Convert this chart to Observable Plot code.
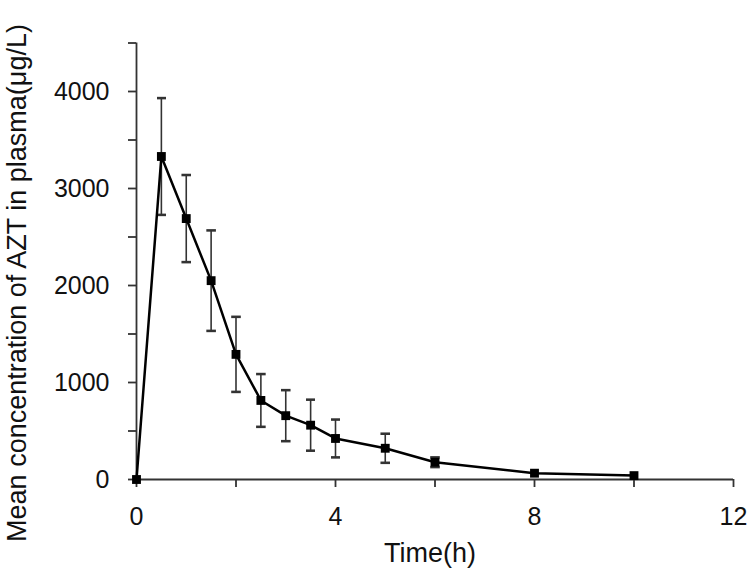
<!DOCTYPE html>
<html><head><meta charset="utf-8">
<script src="https://cdn.jsdelivr.net/npm/d3@7"></script>
<script src="https://cdn.jsdelivr.net/npm/@observablehq/plot@0.6"></script>
<style>html,body{margin:0;padding:0;background:#fff}</style>
</head><body><div id="chart"></div>
<script>
const times = [0, 0.5, 1, 1.5, 2, 2.5, 3, 3.5, 4, 5, 6, 8, 10];
const meanConc = [0, 3330, 2690, 2050, 1290, 815, 658, 560, 423, 322, 178, 65, 40];
const sdConc = [0, 602, 449, 518, 387, 272, 263, 263, 195, 150, 50, 0, 0];
const xTicks = [0, 2, 4, 6, 8, 10, 12];
const xTickLabels = [0, 4, 8, 12];
const yTicks = [0, 500, 1000, 1500, 2000, 2500, 3000, 3500, 4000, 4500];
const yTickLabels = [0, 1000, 2000, 3000, 4000];
const xTitle = "Time(h)";
const yTitle = "Mean concentration of AZT in plasma(\u03bcg/L)";

const data = times.map((t, i) => ({t, mean: meanConc[i], sd: sdConc[i]}));

const axisColor = "#333";
const chart = Plot.plot({
  width: 750, height: 575,
  marginLeft: 136, marginRight: 17, marginTop: 42.5, marginBottom: 96,
  style: {fontFamily: "'Liberation Sans', Arial, sans-serif", background: "#fff", color: "#111"},
  x: {domain: [0, 12]},
  y: {domain: [0, 4500]},
  marks: [
    Plot.ruleX([0], {stroke: axisColor, strokeWidth: 1.8}),
    Plot.ruleY([0], {stroke: axisColor, strokeWidth: 1.8}),
    Plot.axisX({ticks: xTicks, tickSize: 8, tickPadding: 20, label: null,
      tickFormat: d => xTickLabels.includes(d) ? String(d) : "",
      stroke: axisColor, strokeWidth: 1.8, fill: "#111", fontSize: 25}),
    Plot.axisY({ticks: yTicks, tickSize: 8, tickPadding: 19, label: null,
      tickFormat: d => yTickLabels.includes(d) ? String(d) : "",
      stroke: axisColor, strokeWidth: 1.8, fill: "#111", fontSize: 25}),
    Plot.link(data.filter(d => d.sd > 0), {
      x1: "t", x2: "t", y1: d => d.mean - d.sd, y2: d => d.mean + d.sd,
      stroke: "#333", strokeWidth: 1.6, markerStart: "tick", markerEnd: "tick"}),
    Plot.line(data, {x: "t", y: "mean", stroke: "#000", strokeWidth: 2.5}),
    Plot.dot(data, {x: "t", y: "mean", symbol: "square", r: 5, fill: "#000", stroke: "none"})
  ]
});

const svg = d3.select(chart);
svg.append("text")
  .attr("transform", "translate(26,283) rotate(-90)")
  .attr("text-anchor", "middle")
  .attr("font-size", 27)
  .attr("fill", "#111")
  .text(yTitle);
svg.append("text")
  .attr("x", 430).attr("y", 562)
  .attr("text-anchor", "middle")
  .attr("font-size", 27)
  .attr("fill", "#111")
  .text(xTitle);

document.getElementById("chart").appendChild(chart);
</script>
</body></html>
